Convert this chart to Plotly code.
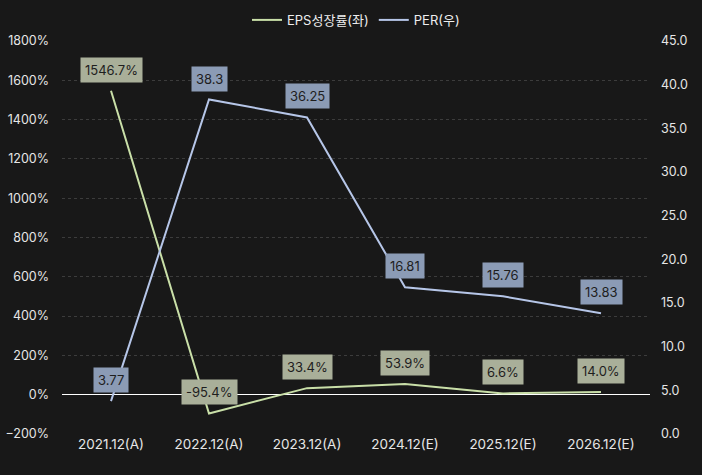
import plotly.graph_objects as go

categories = ["2021.12(A)", "2022.12(A)", "2023.12(A)", "2024.12(E)", "2025.12(E)", "2026.12(E)"]
eps_growth = [1546.7, -95.4, 33.4, 53.9, 6.6, 14.0]
per = [3.77, 38.3, 36.25, 16.81, 15.76, 13.83]
eps_labels = ["1546.7%", "-95.4%", "33.4%", "53.9%", "6.6%", "14.0%"]
per_labels = ["3.77", "38.3", "36.25", "16.81", "15.76", "13.83"]

font_family = "Inter, Noto Sans CJK KR, sans-serif"
eps_color = "#c9dfa8"
per_color = "#b6c6e8"

fig = go.Figure()
fig.add_trace(go.Scatter(x=categories, y=eps_growth, name="EPS성장률(좌)", mode="lines",
                         line=dict(color=eps_color, width=2), yaxis="y"))
fig.add_trace(go.Scatter(x=categories, y=per, name="PER(우)", mode="lines",
                         line=dict(color=per_color, width=2), yaxis="y2"))

annotations = []
for c, v, t in zip(categories, eps_growth, eps_labels):
    annotations.append(dict(x=c, y=v, xref="x", yref="y", text=t, showarrow=False,
                            yshift=21, bgcolor="#a9af99", borderpad=4,
                            font=dict(color="#1e1e1e", size=13, family=font_family)))
for c, v, t in zip(categories, per, per_labels):
    annotations.append(dict(x=c, y=v, xref="x", yref="y2", text=t, showarrow=False,
                            yshift=21, bgcolor="#8b9bb5", borderpad=4,
                            font=dict(color="#1e1e1e", size=13, family=font_family)))

fig.update_layout(
    width=702, height=475,
    paper_bgcolor="#181818", plot_bgcolor="#181818",
    margin=dict(l=62, r=52, t=41, b=41, autoexpand=False),
    font=dict(family=font_family, color="#e6e6e6", size=12),
    showlegend=True,
    legend=dict(orientation="h", x=0.5, xanchor="center", yref="container",
                y=0.958, yanchor="middle",
                font=dict(size=13, color="#eeeeee"), bgcolor="rgba(0,0,0,0)"),
    xaxis=dict(showgrid=False, showline=False, ticks="", range=[-0.5, 5.5], automargin=False,
               tickfont=dict(size=13.5, color="#e6e6e6")),
    yaxis=dict(range=[-200, 1800], dtick=200, ticksuffix="%", showgrid=True, automargin=False,
               gridcolor="#3c3c3c", griddash="3px,3px", gridwidth=1,
               zeroline=True, zerolinecolor="#ffffff", zerolinewidth=1,
               tickfont=dict(size=12.5, color="#e6e6e6"), ticklabelstandoff=12),
    yaxis2=dict(range=[0, 45], dtick=5, tickformat=".1f", overlaying="y", side="right",
                showgrid=False, zeroline=False, automargin=False,
                tickfont=dict(size=12.5, color="#e6e6e6"), ticklabelstandoff=10),
    annotations=annotations,
)

fig.write_html("out.html", config={"displayModeBar": False},
               post_script="document.body.style.margin='0';document.body.style.background='#181818';")
